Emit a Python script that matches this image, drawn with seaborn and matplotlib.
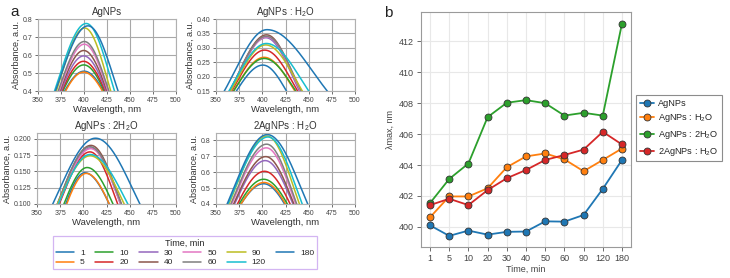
import numpy as np
import pandas as pd
import matplotlib
matplotlib.use("Agg")
import matplotlib.pyplot as plt
import seaborn as sns

# ---------------- data ----------------
times = ["1", "5", "10", "20", "30", "40", "50", "60", "90", "120", "180"]
samples = ["AgNPs", "AgNPs : H$_2$O", "AgNPs : 2H$_2$O", "2AgNPs : H$_2$O"]

# panel b: wavelength of absorption maximum (nm)
lmax_agnps = [400.1, 399.42, 399.76, 399.5, 399.68, 399.7, 400.36, 400.34, 400.77, 402.46, 404.33]
lmax_h2o = [400.62, 401.97, 401.97, 402.5, 403.86, 404.56, 404.75, 404.37, 403.6, 404.33, 405.07]
lmax_2h2o = [401.54, 403.1, 404.1, 407.1, 408.03, 408.2, 408.0, 407.2, 407.38, 407.2, 413.15]
lmax_2ag = [401.41, 401.82, 401.41, 402.38, 403.15, 403.68, 404.33, 404.65, 405.0, 406.15, 405.33]

# panel a: peak absorbance of each spectrum
peak_agnps = [0.51, 0.505, 0.545, 0.565, 0.595, 0.625, 0.66, 0.675, 0.75, 0.775, 0.762]
peak_h2o = [0.240, 0.267, 0.263, 0.292, 0.335, 0.345, 0.338, 0.340, 0.310, 0.315, 0.363]
peak_2h2o = [0.148, 0.147, 0.156, 0.180, 0.186, 0.190, 0.185, 0.188, 0.174, 0.176, 0.201]
peak_2ag = [0.527, 0.535, 0.555, 0.605, 0.672, 0.697, 0.752, 0.775, 0.826, 0.820, 0.835]

# wavelengths where each spectrum leaves the bottom of its panel (left / right side)
left_agnps = [379, 380, 377, 376, 375, 374, 373, 372, 370, 368, 369]
right_agnps = [421, 420, 422, 423, 424, 425, 426, 427, 429, 433, 437]
left_h2o = [372, 369, 369, 367, 366, 365, 365, 365, 366, 364, 359]
right_h2o = [426, 435, 436, 438, 440, 441, 441, 442, 443, 450, 470]
left_2h2o = [381, 382, 379, 374, 373, 372, 373, 372, 372, 373, 367]
right_2h2o = [428, 428, 432, 437, 440, 441, 440, 441, 444, 448, 461]
left_2ag = [377, 377, 375, 373, 370, 369, 367, 366, 364, 363, 362]
right_2ag = [424, 425, 427, 430, 433, 434, 436, 437, 440, 443, 449]

panel_ylim = [(0.4, 0.8), (0.15, 0.40), (0.1, 0.209), (0.4, 0.845)]
panel_yticks = [[0.4, 0.5, 0.6, 0.7, 0.8], [0.15, 0.20, 0.25, 0.30, 0.35, 0.40],
                [0.100, 0.125, 0.150, 0.175, 0.200], [0.4, 0.5, 0.6, 0.7, 0.8]]
panel_fmt = ["{:.1f}", "{:.2f}", "{:.3f}", "{:.1f}"]
xticks_wl = [350, 375, 400, 425, 450, 475, 500]

lmax_all = [lmax_agnps, lmax_h2o, lmax_2h2o, lmax_2ag]
peak_all = [peak_agnps, peak_h2o, peak_2h2o, peak_2ag]
left_all = [left_agnps, left_h2o, left_2h2o, left_2ag]
right_all = [right_agnps, right_h2o, right_2h2o, right_2ag]

# ---------------- style ----------------
sns.set_style("ticks")
plt.rcParams['font.family'] = ['Liberation Sans', 'DejaVu Sans']
plt.rcParams['mathtext.default'] = 'regular'

W, H = 730, 278
fig = plt.figure(figsize=(W / 100, H / 100), dpi=100)


def rect(l, r, t, b):
    return [l / W, 1 - b / H, (r - l) / W, (b - t) / H]


pal = sns.color_palette("tab10", len(times))
wl = np.arange(330, 520, 0.5)

rects = [rect(38, 176, 19, 91), rect(216, 355, 19, 91),
         rect(37, 176, 133, 204), rect(216, 355, 133, 204)]
axes_a = []
for p in range(4):
    ax = fig.add_axes(rects[p])
    ybot = panel_ylim[p][0]
    rows = []
    for i, t in enumerate(times):
        l0 = lmax_all[p][i]
        hp = peak_all[p][i]
        k = np.sqrt(2 * np.log(hp / ybot))
        sl = (l0 - left_all[p][i]) / k
        sr = (right_all[p][i] - l0) / k
        s = np.where(wl < l0, sl, sr)
        a = hp * np.exp(-0.5 * ((wl - l0) / s) ** 2)
        rows.append(pd.DataFrame({"wl": wl, "abs": a, "Time, min": t}))
    df = pd.concat(rows, ignore_index=True)
    sns.lineplot(data=df, x="wl", y="abs", hue="Time, min", hue_order=times,
                 palette=pal, lw=1.1, ax=ax, legend=(p == 0), estimator=None,
                 sort=False)
    ax.set_xlim(350, 500)
    ax.set_ylim(*panel_ylim[p])
    ax.set_xticks(xticks_wl)
    ax.set_xticklabels([str(v) for v in xticks_wl])
    ax.set_yticks(panel_yticks[p])
    ax.set_yticklabels([panel_fmt[p].format(v) for v in panel_yticks[p]])
    ax.grid(True, color="#a8a8a8", lw=0.8)
    ax.set_axisbelow(True)
    ax.tick_params(labelsize=5, length=2.5, width=0.6, pad=1.5, colors="#555555")
    ax.tick_params(labelcolor="#444444")
    for sp in ax.spines.values():
        sp.set_color("#b0b0b0")
        sp.set_linewidth(0.8)
    ax.set_xlabel("Wavelength, nm", fontsize=6.8, labelpad=1, color="#333333")
    ax.set_ylabel("Absorbance, a.u.", fontsize=6.5, labelpad=1.5, color="#333333")
    ax.set_title(samples[p], fontsize=7, pad=3, color="#333333")
    axes_a.append(ax)

# legend for panel a
h, lab = axes_a[0].get_legend_handles_labels()
axes_a[0].get_legend().remove()
leg = fig.legend(h, lab, title="Time, min", ncol=6, loc="center",
                 bbox_to_anchor=(185 / W, 1 - 252.5 / H), fontsize=6,
                 title_fontsize=6.5, frameon=True, handlelength=2.2,
                 columnspacing=1.25, handletextpad=0.7, labelspacing=0.2,
                 borderpad=0.3, fancybox=False)
leg.get_frame().set_edgecolor("#c9a3ef")
leg.get_frame().set_linewidth(0.9)
for ln in leg.get_lines():
    ln.set_linewidth(1.1)

# ---------------- panel b ----------------
axb = fig.add_axes(rect(421, 631, 12, 247))
dfb = pd.concat([
    pd.DataFrame({"Time, min": times, "lmax": vals, "sample": s})
    for s, vals in zip(samples, lmax_all)], ignore_index=True)
colors_b = ["#1f77b4", "#ff7f0e", "#2ca02c", "#d62728"]
sns.lineplot(data=dfb, x="Time, min", y="lmax", hue="sample", hue_order=samples,
             palette=colors_b, marker="o", markersize=5, markeredgecolor="#333333",
             markeredgewidth=0.6, lw=1.3, ax=axb, sort=False, estimator=None)
axb.set_ylim(398.7, 413.9)
axb.set_xlim(-0.47, len(times) - 0.53)
axb.set_yticks([400, 402, 404, 406, 408, 410, 412])
axb.grid(True, color="#e8e8e8", lw=0.8)
axb.set_axisbelow(True)
axb.tick_params(labelsize=6.5, length=3, width=0.6, pad=2, colors="#555555")
axb.tick_params(labelcolor="#444444")
for sp in axb.spines.values():
    sp.set_color("#9a9a9a")
    sp.set_linewidth(0.8)
axb.set_xlabel("Time, min", fontsize=6.5, labelpad=1, color="#444444")
axb.set_ylabel("λmax, nm", fontsize=6.5, labelpad=3, color="#444444")
lg = axb.legend(loc="center left", bbox_to_anchor=(1.01, 0.505), fontsize=6.6,
                frameon=True, fancybox=False, handlelength=1.6,
                handletextpad=0.45, borderpad=0.4, labelspacing=0.4,
                borderaxespad=0.3)
lg.get_frame().set_edgecolor("#707070")
lg.get_frame().set_linewidth(0.8)

fig.text(10 / W, 1 - 12 / H, "a", fontsize=11, va="center", ha="left", color="#222222")
fig.text(384 / W, 1 - 13 / H, "b", fontsize=11, va="center", ha="left", color="#222222")

fig.savefig("out.png", dpi=100)
